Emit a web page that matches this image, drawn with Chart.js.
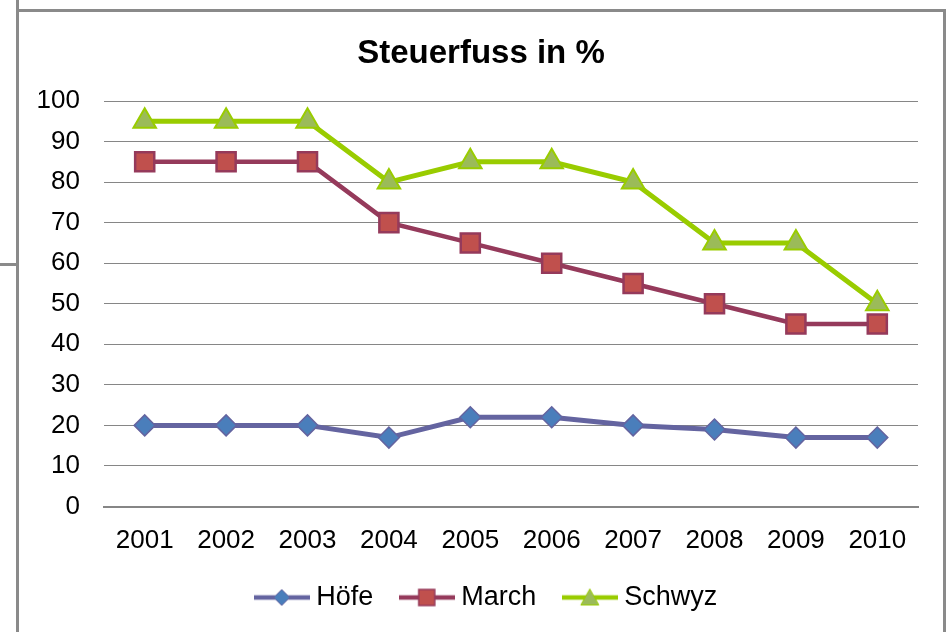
<!DOCTYPE html>
<html lang="de">
<head>
    <meta charset="UTF-8" />
    <title>Steuerfuss in %</title>
    <script src="https://cdn.jsdelivr.net/npm/chart.js"></script>
    <style>
        html, body { margin: 0; padding: 0; background: #fff; }
        #wrap { position: relative; width: 946px; height: 632px; overflow: hidden; }
        #wrap canvas { position: absolute; left: 0; top: 0; }
        .fr { position: absolute; background: #8a8a8a; }
    </style>
</head>
<body>
    <div id="wrap">
        <div class="fr" style="left:16px; top:0; width:3px; height:632px;"></div>
        <div class="fr" style="left:16px; top:9px; width:930px; height:3px;"></div>
        <div class="fr" style="left:943px; top:9px; width:3px; height:623px;"></div>
        <div class="fr" style="left:0; top:263px; width:16px; height:3px;"></div>
        <canvas id="chart" width="946" height="632"></canvas>
    </div>

    <script>
        const years = ['2001', '2002', '2003', '2004', '2005', '2006', '2007', '2008', '2009', '2010'];
        const hoefe = [20, 20, 20, 17, 22, 22, 20, 19, 17, 17];
        const march = [85, 85, 85, 70, 65, 60, 55, 50, 45, 45];
        const schwyz = [95, 95, 95, 80, 85, 85, 80, 65, 65, 50];

        const font = "Arial, 'Liberation Sans', sans-serif";
        const gridColor = '#868686';

        // small pictures for the legend: line with marker in the middle
        function legendIcon(lineColor, fill, border, shape) {
            const c = document.createElement('canvas');
            c.width = 56; c.height = 26;
            const g = c.getContext('2d');
            g.strokeStyle = lineColor;
            g.lineWidth = 4.5;
            g.beginPath(); g.moveTo(0, 13); g.lineTo(56, 13); g.stroke();
            g.fillStyle = fill;
            g.strokeStyle = border;
            g.beginPath();
            if (shape === 'diamond') {
                g.lineWidth = 1;
                g.moveTo(28, 5); g.lineTo(36, 13); g.lineTo(28, 21); g.lineTo(20, 13);
            } else if (shape === 'square') {
                g.lineWidth = 1.5;
                g.rect(20, 5, 16, 16);
            } else {
                g.lineWidth = 1;
                g.moveTo(28, 4.5); g.lineTo(37, 20.5); g.lineTo(19, 20.5);
            }
            g.closePath(); g.fill(); g.stroke();
            return c;
        }

        const icons = [
            legendIcon('#6464A0', '#4A7EBB', '#6464A0', 'diamond'),
            legendIcon('#953A5B', '#C0504D', '#953A5B', 'square'),
            legendIcon('#99CC00', '#9BBB59', '#99CC00', 'triangle')
        ];

        // title and legend sit a bit right of the canvas centre in the original
        const shiftBoxes = {
            id: 'shiftBoxes',
            afterLayout(chart) {
                chart.legend.left += 20;
                chart.legend.right += 20;
                chart.titleBlock.left += 12;
                chart.titleBlock.right += 12;
            }
        };

        new Chart(document.getElementById('chart'), {
            type: 'line',
            data: {
                labels: years,
                datasets: [{
                    label: 'Höfe',
                    data: hoefe,
                    borderColor: '#6464A0',
                    borderWidth: 5,
                    pointStyle: 'rectRot',
                    pointRadius: 10.5,
                    pointBackgroundColor: '#4A7EBB',
                    pointBorderColor: '#6464A0',
                    pointBorderWidth: 1.5,
                    tension: 0
                }, {
                    label: 'March',
                    data: march,
                    borderColor: '#953A5B',
                    borderWidth: 4.5,
                    pointStyle: 'rect',
                    pointRadius: 13.5,
                    pointBackgroundColor: '#C0504D',
                    pointBorderColor: '#953A5B',
                    pointBorderWidth: 2.5,
                    tension: 0
                }, {
                    label: 'Schwyz',
                    data: schwyz,
                    borderColor: '#99CC00',
                    borderWidth: 5,
                    pointStyle: 'triangle',
                    pointRadius: 13,
                    pointBackgroundColor: '#9BBB59',
                    pointBorderColor: '#99CC00',
                    pointBorderWidth: 2,
                    tension: 0
                }]
            },
            plugins: [shiftBoxes],
            options: {
                responsive: false,
                animation: false,
                layout: { padding: { left: 20, right: 28, top: 0, bottom: 11 } },
                plugins: {
                    title: {
                        display: true,
                        text: 'Steuerfuss in %',
                        color: '#000',
                        font: { family: font, size: 33, weight: 'bold' },
                        padding: { top: 34, bottom: 27.4 }
                    },
                    legend: {
                        position: 'bottom',
                        labels: {
                            color: '#000',
                            font: { family: font, size: 27 },
                            usePointStyle: true,
                            pointStyleWidth: 42,
                            padding: 32.5,
                            generateLabels: (chart) => chart.data.datasets.map((ds, i) => ({
                                text: ds.label,
                                pointStyle: icons[i],
                                datasetIndex: i,
                                hidden: false,
                                lineWidth: 0
                            }))
                        }
                    },
                    tooltip: { enabled: false }
                },
                scales: {
                    x: {
                        offset: true,
                        grid: { display: false, drawTicks: false, offset: true },
                        border: { display: true, color: gridColor, width: 2 },
                        ticks: {
                            color: '#000',
                            font: { family: font, size: 26 },
                            padding: 19,
                            maxRotation: 0
                        },
                        afterFit: (s) => { s.height = 45; }
                    },
                    y: {
                        min: 0,
                        max: 100,
                        grid: {
                            color: gridColor,
                            lineWidth: 1,
                            drawTicks: false
                        },
                        border: { display: false },
                        ticks: {
                            stepSize: 10,
                            color: '#000',
                            font: { family: font, size: 26 },
                            padding: 24
                        },
                        afterFit: (s) => { s.width = 84; }
                    }
                }
            }
        });
    </script>
</body>
</html>
